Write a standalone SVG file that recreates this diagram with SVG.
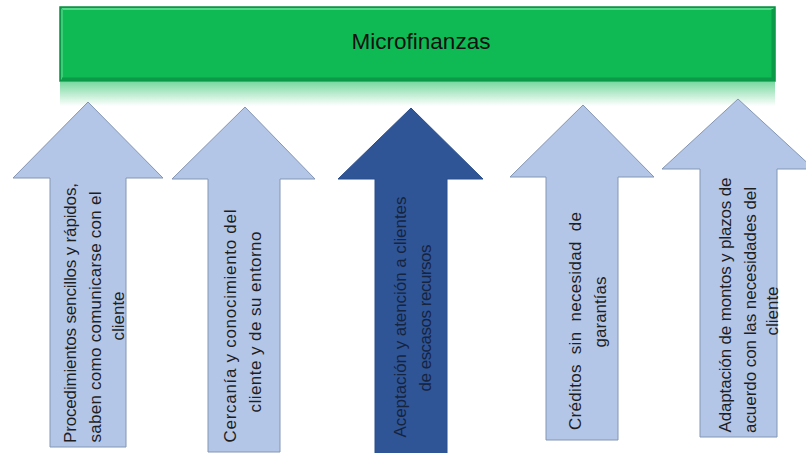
<svg xmlns="http://www.w3.org/2000/svg" width="806" height="453" viewBox="0 0 806 453">
<style>
.lt{fill:#b4c6e7;stroke:#8496b4;stroke-width:1}
.dk{fill:#2f5597;stroke:#2b4f8c;stroke-width:1}
.t{font-family:"Liberation Sans",Arial,sans-serif;font-size:17px;fill:#1e1e1e;text-anchor:middle;dominant-baseline:central;white-space:pre}
.td{fill:#16243f}
.title{font-family:"Liberation Sans",Arial,sans-serif;font-size:22.5px;fill:#111;text-anchor:middle}
</style>
<defs>
<linearGradient id="refl" x1="0" y1="0" x2="0" y2="1">
<stop offset="0" stop-color="#0fba55" stop-opacity="0.55"/>
<stop offset="1" stop-color="#0fba55" stop-opacity="0"/>
</linearGradient>
</defs>
<g id="microfinanzas">
<rect x="60" y="82" width="715" height="24" fill="url(#refl)"/>
<rect x="60" y="7" width="715" height="74" fill="#0fba55" stroke="#0b8d42" stroke-width="1.5"/>
<path d="M62,9 H773" stroke="#52d98a" stroke-width="2" fill="none"/>
<path d="M62,9 V79" stroke="#3ccc78" stroke-width="2" fill="none"/>
<path d="M773,9 V79 H62" stroke="#0a9a48" stroke-width="3" fill="none"/>
<text class="title" x="421" y="49">Microfinanzas</text>
</g>
<g id="connectors"></g>
<g id="arrow1">
<path class="lt" d="M88,102 L163,178 L126,178 L126,447 L50,447 L50,178 L13,178 Z"/>
<text class="t" transform="translate(70,313) rotate(-90)" textLength="260" lengthAdjust="spacing">Procedimientos sencillos y rápidos,</text>
<text class="t" transform="translate(95,317) rotate(-90)" textLength="251" lengthAdjust="spacing">saben como comunicarse con el</text>
<text class="t" transform="translate(118,316) rotate(-90)">cliente</text>
</g>
<g id="arrow2">
<path class="lt" d="M245,107 L315,179 L280,179 L280,452 L208,452 L208,179 L172,179 Z"/>
<text class="t" transform="translate(230,326) rotate(-90)" textLength="233" lengthAdjust="spacing">Cercanía y conocimiento del</text>
<text class="t" transform="translate(255,322) rotate(-90)" textLength="181" lengthAdjust="spacing">cliente y de su entorno</text>
</g>
<g id="arrow3">
<path class="dk" d="M411,108 L483,179 L447,179 L447,460 L375,460 L375,179 L338,179 Z"/>
<text class="t td" transform="translate(400,317) rotate(-90)" textLength="241" lengthAdjust="spacing">Aceptación y atención a clientes</text>
<text class="t td" transform="translate(425,318) rotate(-90)" textLength="147" lengthAdjust="spacing">de escasos recursos</text>
</g>
<g id="arrow4">
<path class="lt" d="M583,105 L654,177 L618,177 L618,440 L546,440 L546,177 L510,177 Z"/>
<text class="t" transform="translate(575,321) rotate(-90)" textLength="218" lengthAdjust="spacing">Créditos  sin  necesidad  de</text>
<text class="t" transform="translate(600,312) rotate(-90)">garantías</text>
</g>
<g id="arrow5">
<path class="lt" d="M738,99 L814,169 L777,169 L777,437 L700,437 L700,169 L662,169 Z"/>
<text class="t" transform="translate(725,305) rotate(-90)" textLength="255" lengthAdjust="spacing">Adaptación de montos y plazos de</text>
<text class="t" transform="translate(750,310) rotate(-90)" textLength="246" lengthAdjust="spacing">acuerdo con las necesidades del</text>
<text class="t" transform="translate(772,311) rotate(-90)">cliente</text>
</g>
</svg>
